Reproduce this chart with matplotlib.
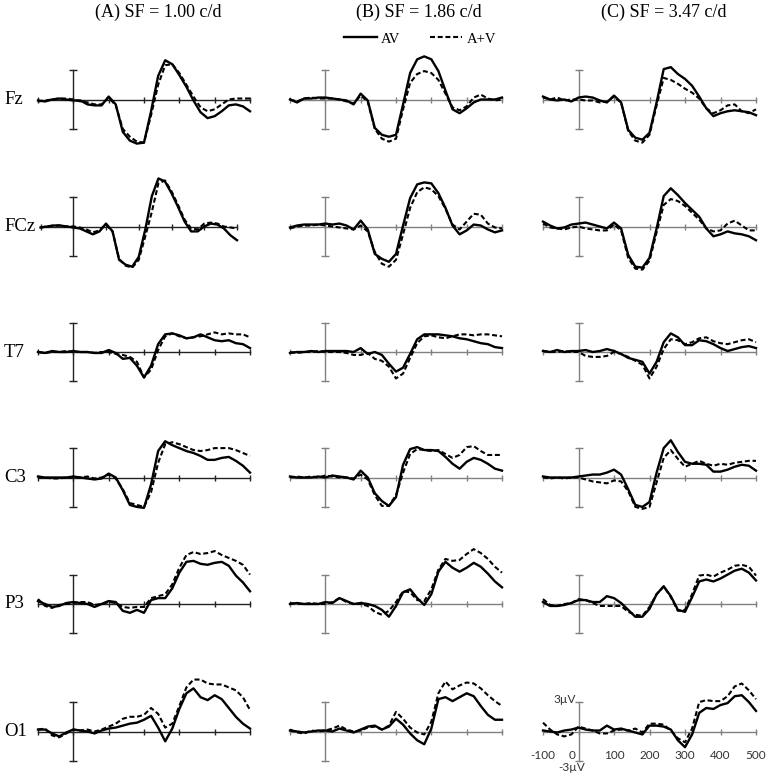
import matplotlib
matplotlib.use("Agg")
import matplotlib.pyplot as plt
import matplotlib.transforms as mtransforms

plt.rcParams['font.family'] = ['Liberation Serif', 'DejaVu Serif']

# sampling times (ms) of the traces, every 20 ms from -100 to 500
times = [-100, -80, -60, -40, -20, 0, 20, 40, 60, 80, 100, 120, 140, 160, 180,
         200, 220, 240, 260, 280, 300, 320, 340, 360, 380, 400, 420, 440, 460, 480, 500]

electrodes = ['Fz', 'FCz', 'T7', 'C3', 'P3', 'O1']
titles = ['(A) SF = 1.00 c/d', '(B) SF = 1.86 c/d', '(C) SF = 3.47 c/d']
xtick_values = [-100, 0, 100, 200, 300, 400, 500]
xtick_labels = ['-100', '0', '100', '200', '300', '400', '500']

# amplitudes in microvolts, "av" = AV (solid), "sum" = A+V (dashed)
fz_a_av = [-0.1, -0.2, 0.0, 0.1, 0.0, -0.1, -0.1, -0.5, -0.6, -0.6, 0.3, -0.5, -3.3, -4.2, -4.5, -4.4, -1.2, 2.4, 4.0, 3.6, 2.5, 1.3, -0.1, -1.3, -1.9, -1.7, -1.2, -0.6, -0.5, -0.7, -1.2]
fz_a_sum = [-0.2, -0.1, 0.0, 0.1, 0.1, 0.0, -0.2, -0.3, -0.5, -0.5, 0.2, -0.6, -3.0, -3.8, -4.3, -4.4, -1.6, 1.5, 3.5, 3.6, 2.7, 1.5, 0.3, -0.8, -1.2, -1.0, -0.5, 0.0, 0.1, 0.1, 0.1]
fz_b_av = [0.0, -0.3, 0.1, 0.1, 0.2, 0.2, 0.1, 0.0, -0.1, -0.5, 0.6, -0.1, -2.9, -3.6, -3.8, -3.6, -0.5, 2.7, 4.1, 4.4, 4.1, 2.9, 0.9, -1.0, -1.4, -0.9, -0.3, 0.0, 0.0, 0.0, 0.2]
fz_b_sum = [0.0, -0.2, 0.1, 0.2, 0.1, 0.1, 0.1, 0.0, -0.2, -0.4, 0.4, -0.2, -3.0, -4.0, -4.3, -4.0, -1.0, 1.7, 2.6, 2.9, 2.7, 2.0, 0.6, -0.8, -1.1, -0.7, 0.2, 0.5, 0.1, -0.1, 0.0]
fz_c_av = [0.3, 0.0, -0.1, 0.0, -0.2, 0.2, 0.3, 0.2, -0.1, -0.3, 0.4, -0.3, -3.1, -3.9, -4.1, -3.4, -0.3, 3.1, 3.3, 2.6, 2.1, 1.4, 0.3, -0.9, -1.7, -1.4, -1.2, -1.1, -1.2, -1.3, -1.6]
fz_c_sum = [0.2, 0.0, 0.2, -0.1, 0.0, 0.0, -0.1, -0.1, -0.3, -0.2, 0.3, -0.3, -3.2, -4.2, -4.4, -3.6, -0.6, 2.2, 2.0, 1.6, 1.1, 0.7, 0.1, -0.9, -1.4, -1.1, -0.6, -0.5, -1.2, -1.4, -1.0]

fcz_a_av = [-0.1, 0.0, 0.1, 0.1, 0.0, -0.1, -0.2, -0.5, -0.8, -0.5, 0.3, -0.5, -3.4, -3.9, -4.1, -3.1, -0.3, 3.1, 4.9, 4.6, 3.4, 2.0, 0.5, -0.5, -0.5, 0.0, 0.3, 0.2, -0.2, -0.9, -1.4]
fcz_a_sum = [-0.1, 0.0, 0.1, 0.1, 0.0, 0.0, -0.1, -0.3, -0.6, -0.4, 0.2, -0.5, -3.3, -4.0, -4.2, -3.4, -1.0, 1.5, 4.4, 4.7, 3.6, 2.2, 0.7, -0.2, -0.3, 0.3, 0.4, 0.3, 0.0, -0.1, -0.2]
fcz_b_av = [-0.1, 0.1, 0.2, 0.2, 0.2, 0.3, 0.2, 0.3, 0.1, -0.3, 0.6, -0.3, -2.8, -3.3, -3.6, -2.8, 0.1, 2.9, 4.3, 4.5, 4.4, 3.4, 1.9, 0.1, -0.8, -0.4, 0.2, 0.1, -0.3, -0.6, -0.4]
fcz_b_sum = [-0.2, 0.0, 0.1, 0.1, 0.2, 0.1, 0.0, -0.1, -0.2, -0.3, 0.1, -0.5, -2.6, -3.8, -4.1, -3.4, -0.8, 1.9, 3.5, 4.0, 3.8, 3.1, 1.8, 0.2, -0.3, 0.5, 1.3, 1.2, 0.3, -0.1, -0.2]
fcz_c_av = [0.5, 0.1, -0.2, -0.1, 0.2, 0.3, 0.4, 0.2, 0.0, -0.2, 0.4, -0.2, -2.9, -4.1, -4.2, -3.2, -0.2, 3.1, 3.9, 3.2, 2.4, 1.7, 1.0, -0.2, -1.0, -0.8, -0.5, -0.7, -0.8, -1.0, -1.4]
fcz_c_sum = [0.3, -0.1, -0.2, -0.3, -0.1, 0.0, -0.2, -0.3, -0.4, -0.4, 0.2, -0.4, -3.2, -4.3, -4.4, -3.5, -0.6, 2.2, 2.8, 2.6, 2.1, 1.4, 0.7, -0.2, -0.5, -0.4, 0.3, 0.6, 0.1, -0.4, -0.4]

t7_a_av = [0.0, -0.1, 0.1, 0.0, 0.0, 0.1, 0.0, 0.0, -0.1, -0.1, 0.2, -0.1, -0.7, -0.6, -1.4, -2.6, -1.4, 0.8, 1.8, 1.9, 1.7, 1.4, 1.5, 1.8, 1.5, 1.2, 1.1, 1.2, 0.9, 0.8, 0.4]
t7_a_sum = [0.0, -0.1, 0.0, 0.0, 0.1, 0.0, 0.0, 0.0, -0.1, 0.0, 0.0, -0.2, -0.3, -0.5, -1.0, -2.6, -1.8, 0.2, 1.6, 1.9, 1.6, 1.4, 1.5, 1.6, 1.8, 2.0, 1.8, 1.9, 1.8, 1.8, 1.5]
t7_b_av = [-0.1, 0.0, 0.0, 0.1, 0.0, 0.1, 0.1, 0.1, 0.1, 0.0, 0.4, -0.2, 0.0, -0.3, -1.2, -2.0, -1.6, -0.2, 1.3, 1.8, 1.8, 1.8, 1.7, 1.6, 1.4, 1.3, 1.1, 0.9, 0.8, 0.5, 0.4]
t7_b_sum = [0.0, -0.1, 0.0, 0.0, 0.1, 0.0, 0.0, 0.0, -0.1, -0.3, -0.3, -0.1, -0.7, -0.9, -1.5, -2.7, -2.2, -0.6, 0.9, 1.6, 1.7, 1.5, 1.4, 1.6, 1.8, 1.8, 1.7, 1.8, 1.8, 1.7, 1.6]
t7_c_av = [0.1, 0.0, 0.2, 0.0, 0.1, 0.1, 0.2, 0.0, 0.1, 0.3, 0.1, -0.2, -0.6, -0.8, -1.0, -2.2, -1.0, 1.0, 1.9, 1.5, 0.7, 0.7, 1.2, 1.1, 0.8, 0.4, 0.1, 0.3, 0.5, 0.6, 0.4]
t7_c_sum = [0.1, 0.0, 0.0, 0.1, 0.0, 0.0, -0.4, -0.5, -0.5, -0.4, 0.0, -0.2, -0.5, -0.9, -1.3, -2.7, -1.5, 0.3, 1.3, 1.2, 0.8, 1.0, 1.4, 1.5, 1.1, 0.9, 0.8, 1.0, 1.2, 1.3, 1.0]

c3_a_av = [0.1, 0.0, 0.0, 0.0, 0.0, 0.1, 0.0, -0.1, -0.2, -0.1, 0.4, 0.0, -1.3, -2.8, -3.0, -3.1, -0.7, 2.7, 3.7, 3.3, 3.0, 2.7, 2.5, 2.2, 1.8, 1.8, 2.0, 2.1, 1.7, 1.2, 0.5]
c3_a_sum = [0.0, 0.0, -0.1, -0.1, 0.0, 0.0, 0.0, 0.1, -0.1, 0.0, 0.3, -0.1, -1.2, -2.6, -2.8, -3.0, -1.5, 1.5, 3.4, 3.6, 3.4, 3.1, 2.8, 2.7, 2.8, 3.0, 3.0, 3.0, 2.8, 2.5, 2.2]
c3_b_av = [0.1, 0.0, 0.0, 0.0, 0.1, 0.0, 0.2, 0.1, 0.0, -0.2, 0.7, 0.0, -1.6, -2.4, -2.9, -2.0, 1.3, 2.9, 3.1, 2.8, 2.8, 2.7, 2.1, 1.4, 0.9, 1.6, 2.0, 1.8, 1.4, 0.9, 0.7]
c3_b_sum = [0.0, 0.1, 0.0, 0.1, 0.0, 0.2, 0.1, 0.0, 0.0, -0.1, 0.3, -0.2, -1.8, -2.9, -2.9, -1.8, 0.5, 2.4, 2.9, 2.8, 2.7, 2.8, 2.4, 2.0, 2.3, 3.1, 3.2, 2.7, 2.3, 2.3, 2.3]
c3_c_av = [0.1, 0.0, 0.0, 0.0, 0.0, 0.1, 0.2, 0.3, 0.3, 0.5, 0.8, 0.3, -1.2, -2.8, -3.0, -2.5, 0.5, 3.0, 3.8, 2.6, 1.6, 1.4, 1.4, 1.3, 0.6, 0.6, 0.8, 1.1, 1.3, 1.2, 0.7]
c3_c_sum = [0.0, -0.1, 0.0, -0.1, 0.0, 0.0, -0.2, -0.4, -0.5, -0.6, -0.3, -0.4, -1.4, -3.0, -3.2, -3.0, -0.5, 2.0, 2.8, 1.9, 1.1, 1.4, 1.7, 1.4, 1.2, 1.4, 1.3, 1.5, 1.6, 1.7, 1.7]

p3_a_av = [0.3, 0.0, -0.3, -0.2, 0.1, 0.2, 0.1, 0.0, -0.3, 0.0, 0.3, 0.2, -0.7, -0.9, -0.6, -0.9, 0.4, 0.6, 0.6, 1.6, 3.2, 4.3, 4.4, 4.1, 4.0, 4.2, 4.3, 3.9, 2.9, 2.2, 1.3]
p3_a_sum = [0.5, -0.2, -0.4, -0.1, 0.0, 0.1, 0.2, 0.2, -0.1, 0.0, 0.2, 0.1, -0.3, -0.4, -0.3, -0.3, 0.6, 0.8, 1.0, 2.0, 3.7, 5.0, 5.3, 5.1, 5.2, 5.4, 5.0, 4.7, 4.4, 4.0, 3.0]
p3_b_av = [0.0, 0.1, 0.0, 0.0, 0.0, 0.2, 0.1, 0.6, 0.3, 0.0, 0.1, 0.0, -0.2, -0.6, -1.3, -0.2, 1.2, 1.5, 0.6, -0.1, 1.0, 3.3, 4.3, 3.7, 3.3, 3.7, 4.2, 3.8, 3.1, 2.3, 1.7]
p3_b_sum = [0.1, 0.0, 0.0, 0.1, 0.0, 0.0, 0.2, 0.6, 0.2, 0.0, 0.0, -0.2, -0.8, -1.1, -0.7, 0.2, 1.3, 1.2, 0.4, 0.3, 1.5, 3.5, 4.6, 4.4, 4.5, 5.1, 5.6, 5.2, 4.6, 3.8, 3.2]
p3_c_av = [0.2, -0.2, -0.2, -0.1, 0.1, 0.4, 0.4, 0.2, 0.2, 0.8, 0.6, 0.1, -0.6, -1.3, -1.3, -0.5, 1.0, 1.8, 0.8, -0.6, -0.8, 0.7, 2.3, 2.5, 2.3, 2.6, 3.0, 3.4, 3.6, 3.2, 2.4]
p3_c_sum = [0.5, -0.1, -0.2, 0.0, 0.1, 0.5, 0.4, 0.1, -0.2, -0.2, -0.2, -0.2, -0.8, -1.1, -1.2, -0.3, 1.0, 1.8, 0.7, -0.7, -0.6, 1.0, 2.9, 3.0, 2.8, 3.2, 3.5, 3.9, 4.0, 3.8, 2.9]

o1_a_av = [0.2, 0.2, -0.2, -0.5, -0.1, 0.2, 0.1, 0.0, -0.2, 0.1, 0.3, 0.4, 0.6, 0.8, 0.9, 1.2, 1.6, 0.4, -1.0, 0.3, 2.3, 3.9, 4.4, 3.5, 3.2, 3.7, 3.3, 2.4, 1.5, 0.8, 0.3]
o1_a_sum = [0.2, 0.3, -0.4, -0.6, -0.2, 0.2, 0.1, 0.2, 0.0, 0.2, 0.5, 0.8, 1.3, 1.5, 1.5, 1.7, 2.4, 1.8, 0.4, 0.8, 2.6, 4.5, 5.3, 5.3, 4.9, 4.8, 4.8, 4.5, 4.2, 3.5, 2.2]
o1_b_av = [0.1, 0.0, -0.1, 0.0, 0.1, 0.1, 0.0, 0.3, 0.1, -0.1, 0.2, 0.5, 0.6, 0.2, 0.5, 1.3, 0.7, -0.2, -0.9, -1.3, 0.3, 3.3, 3.5, 3.1, 3.5, 3.9, 3.6, 2.6, 1.7, 1.2, 1.2]
o1_b_sum = [0.2, -0.1, -0.2, 0.1, 0.0, 0.1, 0.3, 0.6, 0.2, 0.0, 0.1, 0.4, 0.5, 0.2, 0.6, 2.0, 1.3, 0.4, -0.1, -0.3, 1.0, 3.9, 5.1, 4.3, 4.7, 5.0, 4.9, 4.4, 3.7, 3.1, 2.6]
o1_c_av = [0.1, 0.0, -0.1, 0.1, 0.2, 0.4, 0.2, 0.1, 0.1, 0.6, 0.2, 0.3, 0.1, -0.1, -0.3, 0.6, 0.6, 0.5, 0.2, -0.9, -1.6, -0.3, 1.9, 2.4, 2.3, 2.7, 2.9, 3.6, 3.7, 3.0, 2.1]
o1_c_sum = [0.9, 0.2, -0.3, -0.5, -0.3, 0.5, 0.3, 0.1, -0.2, -0.2, 0.1, 0.2, 0.1, 0.3, -0.1, 0.8, 0.8, 0.7, 0.1, -0.7, -1.1, 0.3, 3.0, 3.2, 3.1, 3.1, 3.6, 4.6, 4.9, 4.2, 3.3]

traces = {
    'Fz': [(fz_a_av, fz_a_sum), (fz_b_av, fz_b_sum), (fz_c_av, fz_c_sum)],
    'FCz': [(fcz_a_av, fcz_a_sum), (fcz_b_av, fcz_b_sum), (fcz_c_av, fcz_c_sum)],
    'T7': [(t7_a_av, t7_a_sum), (t7_b_av, t7_b_sum), (t7_c_av, t7_c_sum)],
    'C3': [(c3_a_av, c3_a_sum), (c3_b_av, c3_b_sum), (c3_c_av, c3_c_sum)],
    'P3': [(p3_a_av, p3_a_sum), (p3_b_av, p3_b_sum), (p3_c_av, p3_c_sum)],
    'O1': [(o1_a_av, o1_a_sum), (o1_b_av, o1_b_sum), (o1_c_av, o1_c_sum)],
}

# layout in pixels of the 767x779 picture
W, H = 767, 779
col_px = [(38, 250), (290, 502), (543, 756)]   # x of -100 ms and 500 ms
row_base = [99.5, 226.5, 352, 477.5, 604, 731.5]  # y of the 0 uV line
px_per_uv = 9.8
half = 6.5
title_x = [158.5, 418.7, 664]
axis_colors = ['#222222', '#808080', '#808080']
sans = ['Lato', 'DejaVu Sans']

fig = plt.figure(figsize=(W / 100, H / 100), dpi=100)

first_lines = None
for r, name in enumerate(electrodes):
    for c in range(3):
        x0, x1 = col_px[c]
        if name == 'FCz' and c == 0:
            x0, x1 = 40.5, 237  # this panel is a bit narrower in the original
        base = row_base[r]
        ax = fig.add_axes([x0 / W, 1 - (base + half * px_per_uv) / H,
                           (x1 - x0) / W, 2 * half * px_per_uv / H])
        ax.set_xlim(-100, 500)
        ax.set_ylim(-half, half)
        ax.patch.set_alpha(0)

        av, summed = traces[name][c]
        l1, = ax.plot(times, av, color='black', lw=1.7, solid_joinstyle='round', clip_on=False)
        l2, = ax.plot(times, summed, color='black', lw=1.5, ls=(0, (2.4, 1.3)), clip_on=False)
        if first_lines is None:
            first_lines = [l1, l2]

        for side in ['top', 'right']:
            ax.spines[side].set_visible(False)
        ax.spines['bottom'].set_position(('data', 0))
        ax.spines['left'].set_position(('data', 0))
        ax.spines['bottom'].set_bounds(-100, 500)
        ax.spines['left'].set_bounds(-3, 3)
        for side in ['bottom', 'left']:
            ax.spines[side].set_color(axis_colors[c])
            ax.spines[side].set_linewidth(1.0)
            ax.spines[side].set_zorder(1)
        ax.set_xticks(xtick_values)
        ax.set_yticks([-3, 3])
        ax.tick_params(axis='x', direction='inout', length=4, width=1.0, color=axis_colors[c])
        ax.tick_params(axis='y', direction='inout', length=5.5, width=1.0, color=axis_colors[c])
        ax.set_yticklabels([])

        if name == 'O1' and c == 2:
            ax.set_xticklabels(xtick_labels, family=sans, fontsize=8.5, color='#333333')
            ax.tick_params(axis='x', pad=11.5)
            zero_lab = ax.get_xticklabels()[1]
            zero_lab.set_transform(zero_lab.get_transform() +
                                   mtransforms.ScaledTranslation(-6 / 100, 0, fig.dpi_scale_trans))
            ax.annotate('3µV', xy=(0, 3), xytext=(-2, 2), textcoords='offset points',
                        ha='right', va='center', fontsize=8.5, color='#333333', family=sans)
            ax.annotate('-3µV', xy=(0, -3), xytext=(-5, -5), textcoords='offset points',
                        ha='center', va='center', fontsize=8.5, color='#333333', family=sans)
        else:
            ax.set_xticklabels([])

    fig.text(4 / W, 1 - row_base[r] / H, name, ha='left', va='center', fontsize=13.5)

for c in range(3):
    fig.text(title_x[c] / W, 1 - 12 / H, titles[c], ha='center', va='center', fontsize=13)

fig.legend(first_lines, ['AV', 'A+V'], loc='center', bbox_to_anchor=(420 / W, 1 - 39 / H),
           ncol=2, frameon=False, fontsize=10.5, handlelength=2.25, handletextpad=0.3,
           columnspacing=2.0)

fig.savefig('out.png', dpi=100)
